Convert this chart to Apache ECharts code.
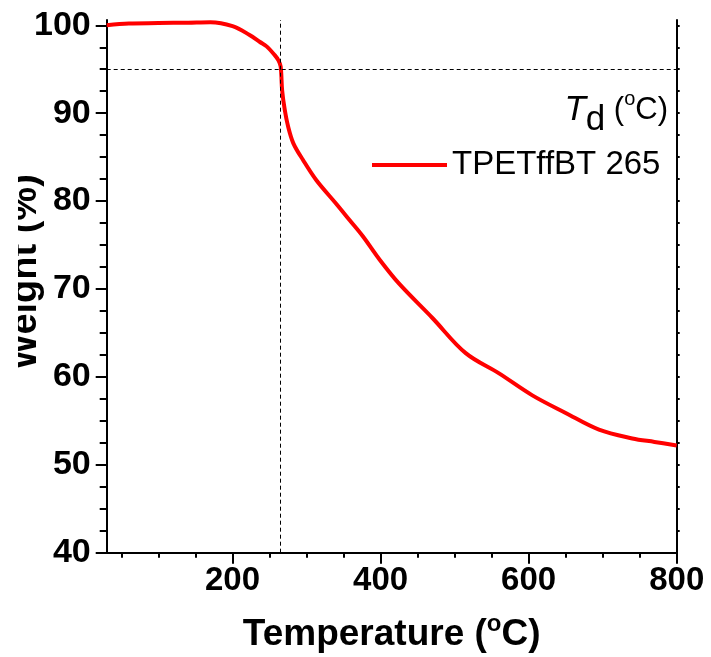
<!DOCTYPE html>
<html>
<head>
<meta charset="utf-8">
<script src="https://cdn.jsdelivr.net/npm/echarts@6.0.0/dist/echarts.min.js"></script>
<style>
  html, body { margin: 0; padding: 0; background: #fff; }
  #main { width: 711px; height: 657px; }
</style>
</head>
<body>
<div id="main"></div>
<script>
// TGA curve
var temps = [30, 60, 100, 140, 170, 200, 223, 237, 246, 257, 262, 265, 267, 270.5, 275, 282, 295, 313, 340, 358, 376, 399, 425, 470, 515, 560, 605, 650, 695, 740, 770, 800];
var weights = [100.0, 100.2, 100.25, 100.3, 100.35, 99.9, 98.9, 98.1, 97.6, 96.6, 96.0, 95.3, 92.6, 90.4, 88.5, 86.6, 84.7, 82.4, 79.7, 77.85, 76.0, 73.3, 70.6, 66.7, 62.7, 60.4, 57.9, 55.9, 54.0, 53.0, 52.6, 52.2];

var seriesName = 'TPETffBT 265';
var tdTemp = 265;     // vertical dashed line
var tdWeight = 95;    // horizontal dashed line (5 % loss)

var xMajor = [200, 400, 600, 800];
var xMinor = [50, 100, 150, 250, 300, 350, 450, 500, 550, 650, 700, 750];
var yMajor = [40, 50, 60, 70, 80, 90, 100];
var yMinor = [42.5, 45, 47.5, 52.5, 55, 57.5, 62.5, 65, 67.5, 72.5, 75, 77.5, 82.5, 85, 87.5, 92.5, 95, 97.5];
var yRight = [42.5, 45, 47.5, 50, 52.5, 55, 57.5, 60, 62.5, 65, 67.5, 70, 72.5, 75, 77.5, 80, 82.5, 85, 87.5, 90, 92.5, 95, 97.5, 100];

var FONT = 'Liberation Sans, Arial, sans-serif';
var xMin = 30, xMax = 800, yMin = 40, yMax = 100.6;

var data = temps.map(function (t, i) { return [t, weights[i]]; });

var myChart = echarts.init(document.getElementById('main'));

// common bits for the helper axes that only draw ticks
function tickOnly(pos, values, len) {
  return {
    type: 'value', position: pos, min: 0, max: 0,
    axisLine: { show: false },
    axisLabel: { show: false },
    splitLine: { show: false },
    axisTick: { show: true, customValues: values, length: len, lineStyle: { color: '#000', width: 2 } }
  };
}

var xMinorAxis = tickOnly('bottom', xMinor, 5);
xMinorAxis.min = xMin; xMinorAxis.max = xMax;
var yMinorAxis = tickOnly('left', yMinor, 7);
yMinorAxis.min = yMin; yMinorAxis.max = yMax;
var yRightAxis = tickOnly('right', yRight, 3);
yRightAxis.min = yMin; yRightAxis.max = yMax;
yRightAxis.axisLine = { show: true, lineStyle: { color: '#000', width: 2 } };

myChart.setOption({
  animation: false,
  backgroundColor: '#fff',
  grid: {
    left: 106.7, right: 34.3, top: 20, bottom: 104.3,
    outerBoundsMode: 'none'
  },
  legend: {
    data: [seriesName],
    left: 367, top: 143,
    icon: 'rect', itemWidth: 75, itemHeight: 4,
    textStyle: { fontFamily: FONT, fontSize: 33, color: '#000', lineHeight: 34 }
  },
  xAxis: [
    {
      type: 'value', min: xMin, max: xMax,
      name: '{a|Temperature (}{s|o}{a|C)}',
      nameLocation: 'middle', nameGap: 60,
      nameTextStyle: {
        rich: {
          a: { fontFamily: FONT, fontWeight: 'bold', fontSize: 37, color: '#000' },
          s: { fontFamily: FONT, fontWeight: 'bold', fontSize: 24, color: '#000', padding: [0, 0, 20, 0] }
        }
      },
      axisLine: { show: true, onZero: false, lineStyle: { color: '#000', width: 2 } },
      axisTick: { show: true, customValues: xMajor, length: 11, lineStyle: { color: '#000', width: 2 } },
      axisLabel: { customValues: xMajor, margin: 12, fontFamily: FONT, fontWeight: 'bold', fontSize: 33, color: '#000' },
      splitLine: { show: false }
    },
    xMinorAxis
  ],
  yAxis: [
    {
      type: 'value', min: yMin, max: yMax, interval: 10,
      axisLine: { show: true, onZero: false, lineStyle: { color: '#000', width: 2 } },
      axisTick: { show: true, customValues: yMajor, length: 11, lineStyle: { color: '#000', width: 2 } },
      axisLabel: { customValues: yMajor, margin: 16, fontFamily: FONT, fontWeight: 'bold', fontSize: 34, color: '#000' },
      splitLine: { show: false }
    },
    yMinorAxis,
    yRightAxis
  ],
  graphic: [
    {
      type: 'text', x: 26, y: 272, rotation: Math.PI / 2, z: 50,
      style: {
        text: 'Weight (%)', font: 'bold 38px ' + FONT, fill: '#000',
        align: 'center', verticalAlign: 'middle'
      }
    },
    {
      // the picture is cut off along the left edge
      type: 'rect', z: 60, shape: { x: 0, y: 0, width: 18, height: 657 },
      style: { fill: '#fff' }
    },
    {
      type: 'text', x: 668, y: 110, z: 50,
      style: {
        text: '{t|T}{d|d}{p| (}{o|o}{p|C)}',
        align: 'right', verticalAlign: 'middle',
        rich: {
          t: { fontFamily: FONT, fontStyle: 'italic', fontSize: 35, fill: '#000' },
          d: { fontFamily: FONT, fontSize: 35, fill: '#000', padding: [20, 0, 0, 0] },
          p: { fontFamily: FONT, fontSize: 31, fill: '#000' },
          o: { fontFamily: FONT, fontSize: 20, fill: '#000', padding: [0, 0, 22, 0] }
        }
      }
    }
  ],
  series: [
    {
      name: seriesName,
      type: 'line',
      data: data,
      showSymbol: false,
      smooth: 0.35,
      lineStyle: { color: '#ff0000', width: 4 },
      itemStyle: { color: '#ff0000' },
      markLine: {
        silent: true,
        symbol: ['none', 'none'],
        label: { show: false },
        lineStyle: { color: '#000', type: [4, 3], width: 1 },
        data: [{ xAxis: tdTemp }, { yAxis: tdWeight }]
      }
    }
  ]
});
</script>
</body>
</html>
